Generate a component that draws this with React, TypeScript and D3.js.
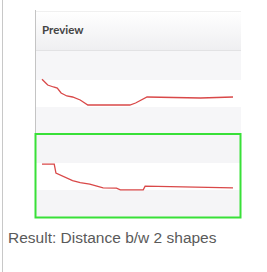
import React from "react";
import * as d3 from "d3";

// time steps (0..100) and distance values for the two shape traces
const topSteps = [0, 3, 6, 8, 10, 13, 16, 20, 24, 46, 49, 55, 83, 100];
const topValues = [7.7, 6.25, 5.75, 5.5, 4.25, 3.5, 3.25, 2.5, 1.25, 1.25, 1.75, 3.25, 3.0, 3.25];
const botSteps = [0, 6.4, 7.3, 16, 20, 25, 32, 39, 41, 53, 54, 100];
const botValues = [7.7, 7.7, 5.5, 3.6, 3.1, 2.7, 1.8, 1.7, 1.3, 1.3, 2.2, 1.8];

const headerLabel = "Preview";
const resultLabel = "Result: Distance b/w 2 shapes";

export default function App() {
  const W = 267;
  const H = 272;
  const x = d3.scaleLinear().domain([0, 100]).range([42, 233]);
  const yTop = d3.scaleLinear().domain([0, 10]).range([110, 70]);
  const yBot = d3.scaleLinear().domain([0, 10]).range([195, 155]);

  const lineTop = d3
    .line<number>()
    .x((_, i) => x(topSteps[i]))
    .y((d) => yTop(d));
  const lineBot = d3
    .line<number>()
    .x((_, i) => x(botSteps[i]))
    .y((d) => yBot(d));

  return (
    <svg
      width={W}
      height={H}
      style={{ position: "absolute", left: 0, top: 0, background: "#fff" }}
    >
      <defs>
        <linearGradient id="hdr" x1="0" y1="0" x2="0" y2="1">
          <stop offset="0" stopColor="#ffffff" />
          <stop offset="1" stopColor="#efeff1" />
        </linearGradient>
      </defs>
      {/* outer left border */}
      <line x1={2.5} y1={0} x2={2.5} y2={H} stroke="#c8c8c8" strokeWidth={1} />
      {/* panel header */}
      <rect x={35} y={11} width={206} height={39} fill="url(#hdr)" />
      <line x1={35} y1={11.5} x2={241} y2={11.5} stroke="#f0f0f0" />
      <line x1={35} y1={50.5} x2={241} y2={50.5} stroke="#e2e2e4" />
      <line x1={35.5} y1={10} x2={35.5} y2={134} stroke="#c4c4c4" />
      <text
        x={42}
        y={34}
        fontFamily="Lato, 'Open Sans', sans-serif"
        fontWeight={700}
        fontSize={11.5}
        fill="#444"
      >
        {headerLabel}
      </text>
      {/* top chart bands */}
      <rect x={36} y={51} width={205} height={29} fill="#f6f6f8" />
      <rect x={36} y={80} width={202} height={27} fill="#ffffff" />
      <rect x={36} y={107} width={205} height={26} fill="#f6f6f8" />
      {/* bottom chart bands */}
      <rect x={36} y={135} width={204} height={28} fill="#f5f5f7" />
      <rect x={36} y={163} width={204} height={27} fill="#ffffff" />
      <rect x={36} y={190} width={204} height={27} fill="#f5f5f7" />
      <path d={lineTop(topValues) || ""} fill="none" stroke="#d94848" strokeWidth={1.3} />
      <path d={lineBot(botValues) || ""} fill="none" stroke="#d94848" strokeWidth={1.3} />
      {/* green highlight box */}
      <rect x={35.5} y={134} width={205} height={83.5} fill="none" stroke="#38e038" strokeWidth={2} />
      <text
        x={8}
        y={243}
        fontFamily="'Liberation Sans', Arial, sans-serif"
        fontSize={15.5}
        fill="#5a5a5a"
      >
        {resultLabel}
      </text>
    </svg>
  );
}
